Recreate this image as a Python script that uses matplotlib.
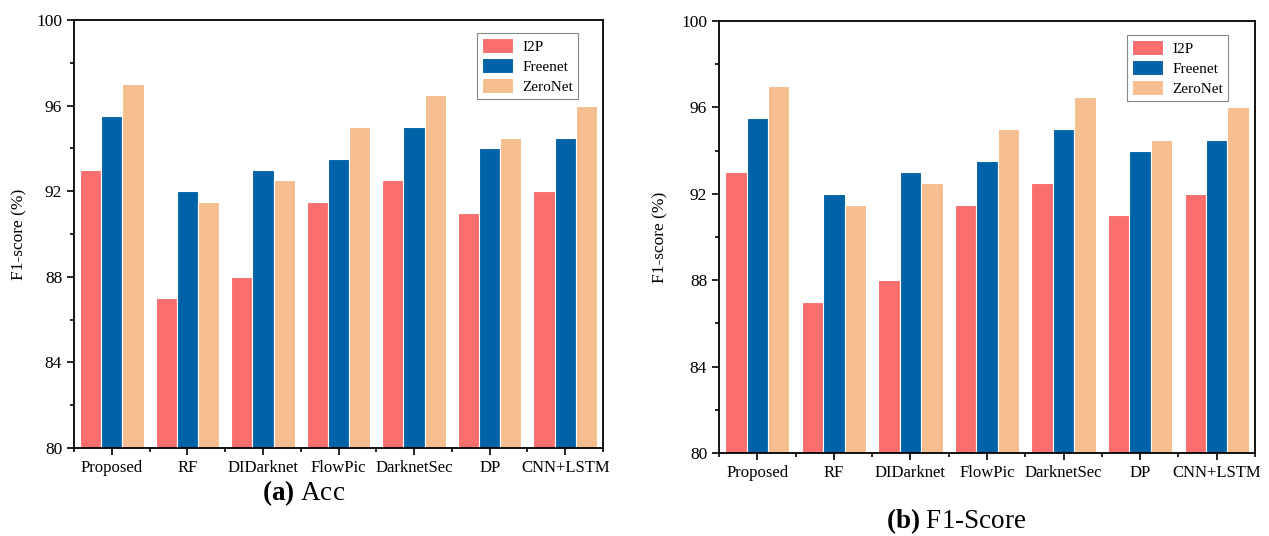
from matplotlib import pyplot as plt
from matplotlib.ticker import MultipleLocator, FixedLocator
import numpy as np

plt.rcParams['font.family'] = ['Liberation Serif', 'DejaVu Serif']
plt.rcParams['mathtext.fontset'] = 'custom'
plt.rcParams['mathtext.rm'] = 'Liberation Serif'
plt.rcParams['mathtext.bf'] = 'Liberation Serif:bold'

methods = ['Proposed', 'RF', 'DIDarknet', 'FlowPic', 'DarknetSec', 'DP', 'CNN+LSTM']
series = ['I2P', 'Freenet', 'ZeroNet']

acc_i2p = [93, 87, 88, 91.5, 92.5, 91, 92]
acc_freenet = [95.5, 92, 93, 93.5, 95, 94, 94.5]
acc_zeronet = [97, 91.5, 92.5, 95, 96.5, 94.5, 96]

f1_i2p = [93, 87, 88, 91.5, 92.5, 91, 92]
f1_freenet = [95.5, 92, 93, 93.5, 95, 94, 94.5]
f1_zeronet = [97, 91.5, 92.5, 95, 96.5, 94.5, 96]

colors = ['#FA6E6E', '#0063A8', '#F6BD8F']

fig = plt.figure(figsize=(12.69, 5.36), dpi=100)
W, H = 1269, 536
ax1 = fig.add_axes([74 / W, 1 - 448 / H, (603 - 74) / W, (448 - 20) / H])
ax2 = fig.add_axes([719 / W, 1 - 453 / H, (1255 - 719) / W, (453 - 21) / H])


def draw(ax, data, anchor):
    x = np.arange(len(methods))
    width = 0.28
    for i, (vals, name) in enumerate(zip(data, series)):
        ax.bar(x + (i - 1) * width, vals, width, color=colors[i], label=name,
               edgecolor='white', linewidth=0.8)
    ax.set_xlim(-0.5, len(methods) - 0.5)
    ax.set_ylim(80, 100)
    ax.set_xticks(x, methods)
    ax.xaxis.set_minor_locator(FixedLocator(np.arange(-0.5, len(methods), 1)))
    ax.yaxis.set_major_locator(MultipleLocator(4))
    ax.yaxis.set_minor_locator(MultipleLocator(2))
    ax.tick_params(which='major', direction='out', length=5, width=1.2, labelsize=12.5)
    ax.tick_params(which='minor', direction='out', length=3, width=1.2)
    ax.tick_params(axis='x', labelsize=12)
    for s in ax.spines.values():
        s.set_linewidth(1.3)
    ax.set_ylabel('F1-score (%)', fontsize=12.5)
    leg = ax.legend(loc='upper right', bbox_to_anchor=anchor, borderaxespad=0,
                    fontsize=11, fancybox=False, framealpha=1,
                    edgecolor='#888888', handlelength=2.0, handleheight=1.1,
                    labelspacing=0.3, handletextpad=0.6, borderpad=0.35)
    leg.get_frame().set_linewidth(0.8)


draw(ax1, [acc_i2p, acc_freenet, acc_zeronet], (0.953, 0.970))
draw(ax2, [f1_i2p, f1_freenet, f1_zeronet], (0.950, 0.968))

ax1.yaxis.set_label_coords(-0.088, 0.5)
ax2.yaxis.set_label_coords(-0.095, 0.5)

fig.text(304 / W, 1 - 493 / H, r'$\mathbf{(a)}$ Acc', fontsize=19.5, ha='center', va='center')
fig.text(956 / W, 1 - 521 / H, r'$\mathbf{(b)}$ F1-Score', fontsize=19.5, ha='center', va='center')

fig.savefig('out.png', dpi=100)
